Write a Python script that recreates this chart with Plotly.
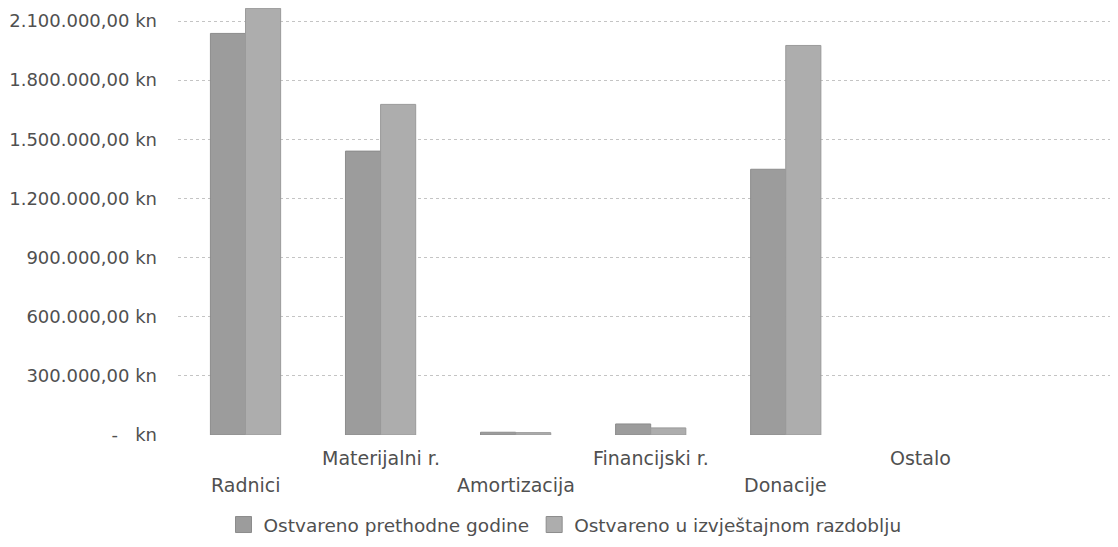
import plotly.graph_objects as go

categories = ["Radnici", "Materijalni r.", "Amortizacija", "Financijski r.", "Donacije", "Ostalo"]
prev_year = [2037000, 1440000, 14000, 56000, 1348000, 0]
current_period = [2164000, 1677000, 12000, 36000, 1976000, 0]
series_names = ["Ostvareno prethodne godine", "Ostvareno u izvještajnom razdoblju"]
tick_vals = [0, 300000, 600000, 900000, 1200000, 1500000, 1800000, 2100000]
tick_text = ["-\u2007 kn",
             "300.000,00 kn", "600.000,00 kn", "900.000,00 kn", "1.200.000,00 kn",
             "1.500.000,00 kn", "1.800.000,00 kn", "2.100.000,00 kn"]

FONT = "DejaVu Sans"
TXT = "#505050"
C_PREV = "#9c9c9c"
C_CUR = "#adadad"

# page body has an 8px margin: figure is sized/offset to compensate
W, H = 1110, 539

def outline(vals):
    return [1 if v > 0 else 0 for v in vals]

fig = go.Figure()
fig.add_trace(go.Bar(x=categories, y=prev_year, name=series_names[0], showlegend=False,
                     marker=dict(color=C_PREV, line=dict(color="#8c8c8c", width=outline(prev_year)))))
fig.add_trace(go.Bar(x=categories, y=current_period, name=series_names[1], showlegend=False,
                     marker=dict(color=C_CUR, line=dict(color="#9a9a9a", width=outline(current_period)))))
# legend entries (square swatches)
for name, col in zip(series_names, [C_PREV, C_CUR]):
    fig.add_trace(go.Scatter(x=[None], y=[None], mode="markers", name=name,
                             marker=dict(symbol="square", size=20, color=col,
                                         line=dict(color="#8c8c8c", width=1))))

# staggered category labels
for i, c in enumerate(categories):
    fig.add_annotation(x=c, xref="x", y=0, yref="paper", text=c, showarrow=False,
                       yanchor="middle", yshift=-50 if i % 2 == 0 else -23,
                       font=dict(family=FONT, size=19, color=TXT))

fig.update_layout(
    width=W, height=H,
    margin=dict(l=170, r=0, t=0, b=112),
    paper_bgcolor="white", plot_bgcolor="white",
    barmode="group", bargap=0.48, bargroupgap=0,
    font=dict(family=FONT, size=16, color=TXT),
    xaxis=dict(type="category", range=[-0.5, 6.46], showticklabels=False,
               showgrid=False, zeroline=False, showline=False, ticks=""),
    yaxis=dict(range=[0, 2166000], tickvals=tick_vals, ticktext=tick_text,
               showgrid=True, gridcolor="#c4c4c4", griddash="dot", gridwidth=1,
               zeroline=False, showline=False, ticks="", ticklabelstandoff=20,
               automargin=False,
               tickfont=dict(family=FONT, size=18, color=TXT)),
    legend=dict(orientation="h", xref="container", yref="container",
                x=(565 - 8) / W, y=1 - (525 - 8) / H, xanchor="center", yanchor="middle",
                font=dict(family=FONT, size=18.5, color=TXT), itemwidth=30,
                traceorder="normal"),
    showlegend=True,
)

fig.write_html("out.html")
